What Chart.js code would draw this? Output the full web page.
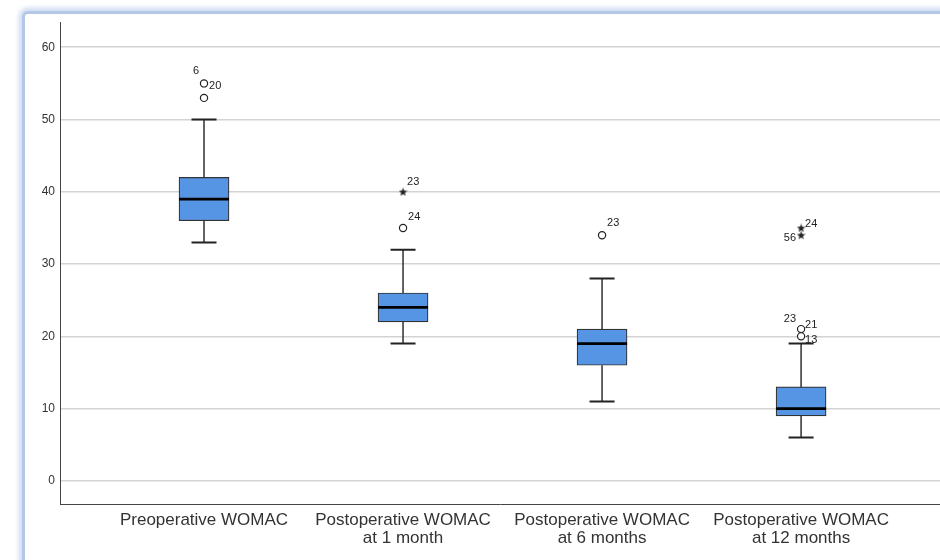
<!DOCTYPE html>
<html>
<head>
<meta charset="utf-8">
<script src="https://cdn.jsdelivr.net/npm/chart.js@4.4.1/dist/chart.umd.min.js"></script>
<style>
  html, body { margin:0; padding:0; background:#fff; width:940px; height:560px; overflow:hidden; }
  #frame { position:absolute; left:25px; top:14px; width:1000px; height:700px; background:#fff;
           box-shadow: 0 0 0 3px #b5c7e7, 0 0 5px 6px #cddaf0; border-radius:3px; }
  #c { position:absolute; left:0; top:0; }
</style>
</head>
<body>
<div id="frame"></div>
<canvas id="c" width="940" height="560"></canvas>
<script>
// ---- data ----
const categories = ['Preoperative WOMAC', 'Postoperative WOMAC\nat 1 month', 'Postoperative WOMAC\nat 6 months', 'Postoperative WOMAC\nat 12 months'];
const mins    = [33, 19, 11, 6];
const q1s     = [36, 22, 16, 9];
const medians = [39, 24, 19, 10];
const q3s     = [42, 26, 21, 13];
const maxs    = [50, 32, 28, 19];
// outliers (circles): [groupIndex, value]
const outliers = [[0, 55], [0, 53], [1, 35], [2, 34], [3, 21], [3, 20]];
// extremes (stars): [groupIndex, value]
const extremes = [[1, 40], [3, 35], [3, 34]];
// case labels: [groupIndex, value, caseId]
const caseLabels = [[0,55,'6'],[0,55,'20'],[1,40,'23'],[1,35,'24'],[2,34,'23'],[3,35,'24'],[3,34,'56'],[3,21,'23'],[3,21,'21'],[3,20,'13']];
const yTicks = [0, 10, 20, 30, 40, 50, 60];

// ---- styles ----
const labelPlacement = [[-8,-12,'center'],[5,3,'left'],[4,-10,'left'],[5,-11,'left'],[5,-12,'left'],[4,-4,'left'],[-5,3,'right'],[-5,-10,'right'],[4,-4,'left'],[4,4,'left']];
const boxColor = '#5694e4';
const ink = '#222';

// star point image
const starImg = document.createElement('canvas');
starImg.width = 9; starImg.height = 9;
(function(){
  const g = starImg.getContext('2d');
  g.fillStyle = ink; g.beginPath();
  for (let i = 0; i < 10; i++) {
    const r = i % 2 === 0 ? 4.5 : 1.9;
    const a = -Math.PI/2 + i * Math.PI/5;
    const px = 4.5 + r*Math.cos(a), py = 4.8 + r*Math.sin(a);
    i === 0 ? g.moveTo(px, py) : g.lineTo(px, py);
  }
  g.closePath(); g.fill();
})();

const boxPlugin = {
  id: 'boxparts',
  afterDatasetsDraw(chart) {
    const ctx = chart.ctx, xs = chart.scales.x, ys = chart.scales.y;
    ctx.save();
    categories.forEach((c, i) => {
      const x = xs.getPixelForValue(i);
      ctx.strokeStyle = ink; ctx.lineWidth = 1.4;
      ctx.beginPath();
      ctx.moveTo(x, ys.getPixelForValue(q3s[i])); ctx.lineTo(x, ys.getPixelForValue(maxs[i]));
      ctx.moveTo(x, ys.getPixelForValue(q1s[i])); ctx.lineTo(x, ys.getPixelForValue(mins[i]));
      ctx.stroke();
      ctx.lineWidth = 2;
      ctx.beginPath();
      ctx.moveTo(x-12.5, ys.getPixelForValue(maxs[i])); ctx.lineTo(x+12.5, ys.getPixelForValue(maxs[i]));
      ctx.moveTo(x-12.5, ys.getPixelForValue(mins[i])); ctx.lineTo(x+12.5, ys.getPixelForValue(mins[i]));
      ctx.stroke();
      ctx.strokeStyle = '#000'; ctx.lineWidth = 2.8;
      ctx.beginPath();
      ctx.moveTo(x-25, ys.getPixelForValue(medians[i])); ctx.lineTo(x+25, ys.getPixelForValue(medians[i]));
      ctx.stroke();
    });
    ctx.fillStyle = ink; ctx.font = '11px "Liberation Sans", Arial, sans-serif';
    ctx.textBaseline = 'middle';
    caseLabels.forEach((l, k) => {
      const p = labelPlacement[k];
      ctx.textAlign = p[2];
      ctx.fillText(l[2], xs.getPixelForValue(l[0]) + p[0], ys.getPixelForValue(l[1]) + p[1]);
    });
    ctx.restore();
  }
};

new Chart(document.getElementById('c'), {
  type: 'bar',
  data: {
    datasets: [
      {
        type: 'bar',
        data: categories.map((c, i) => ({ x: i, y: [q1s[i], q3s[i]] })),
        backgroundColor: boxColor, borderColor: '#333', borderWidth: 1.2,
        borderSkipped: false, barThickness: 50, order: 3
      },
      {
        type: 'scatter',
        data: outliers.map(o => ({ x: o[0], y: o[1] })),
        pointStyle: 'circle', pointRadius: 3.6, backgroundColor: '#fff',
        borderColor: ink, borderWidth: 1.2, order: 1
      },
      {
        type: 'scatter',
        data: extremes.map(o => ({ x: o[0], y: o[1] })),
        pointStyle: starImg, pointRadius: 4, order: 1
      }
    ]
  },
  options: {
    responsive: false, animation: false,
    layout: { autoPadding: false, padding: { top: 22, left: 0, right: 0, bottom: 0 } },
    plugins: { legend: { display: false }, tooltip: { enabled: false } },
    scales: {
      x: {
        type: 'linear', min: -0.7236, max: 3.698, offset: false,
        grid: { display: false, drawTicks: false },
        border: { display: true, color: '#444', width: 1 },
        afterBuildTicks(s) { s.ticks = categories.map((c, i) => ({ value: i })); },
        afterFit(s) { s.height = 56; s.paddingLeft = 0; s.paddingRight = 0; },
        ticks: {
          autoSkip: false, maxRotation: 0, padding: 7,
          color: '#333', font: { family: '"Liberation Sans", Arial, sans-serif', size: 17, lineHeight: 1.08 },
          callback: (v) => categories[v].split('\n')
        }
      },
      y: {
        type: 'linear', min: -3.2, max: 63.5,
        grid: { color: '#d3d3d3', lineWidth: 1.6, drawTicks: false },
        border: { display: true, color: '#444', width: 1 },
        afterBuildTicks(s) { s.ticks = yTicks.map(v => ({ value: v })); },
        afterFit(s) { s.width = 60; s.paddingTop = 0; s.paddingBottom = 0; },
        ticks: {
          padding: 5, color: '#333',
          font: { family: '"Liberation Sans", Arial, sans-serif', size: 12 }
        }
      }
    }
  },
  plugins: [boxPlugin]
});
</script>
</body>
</html>
